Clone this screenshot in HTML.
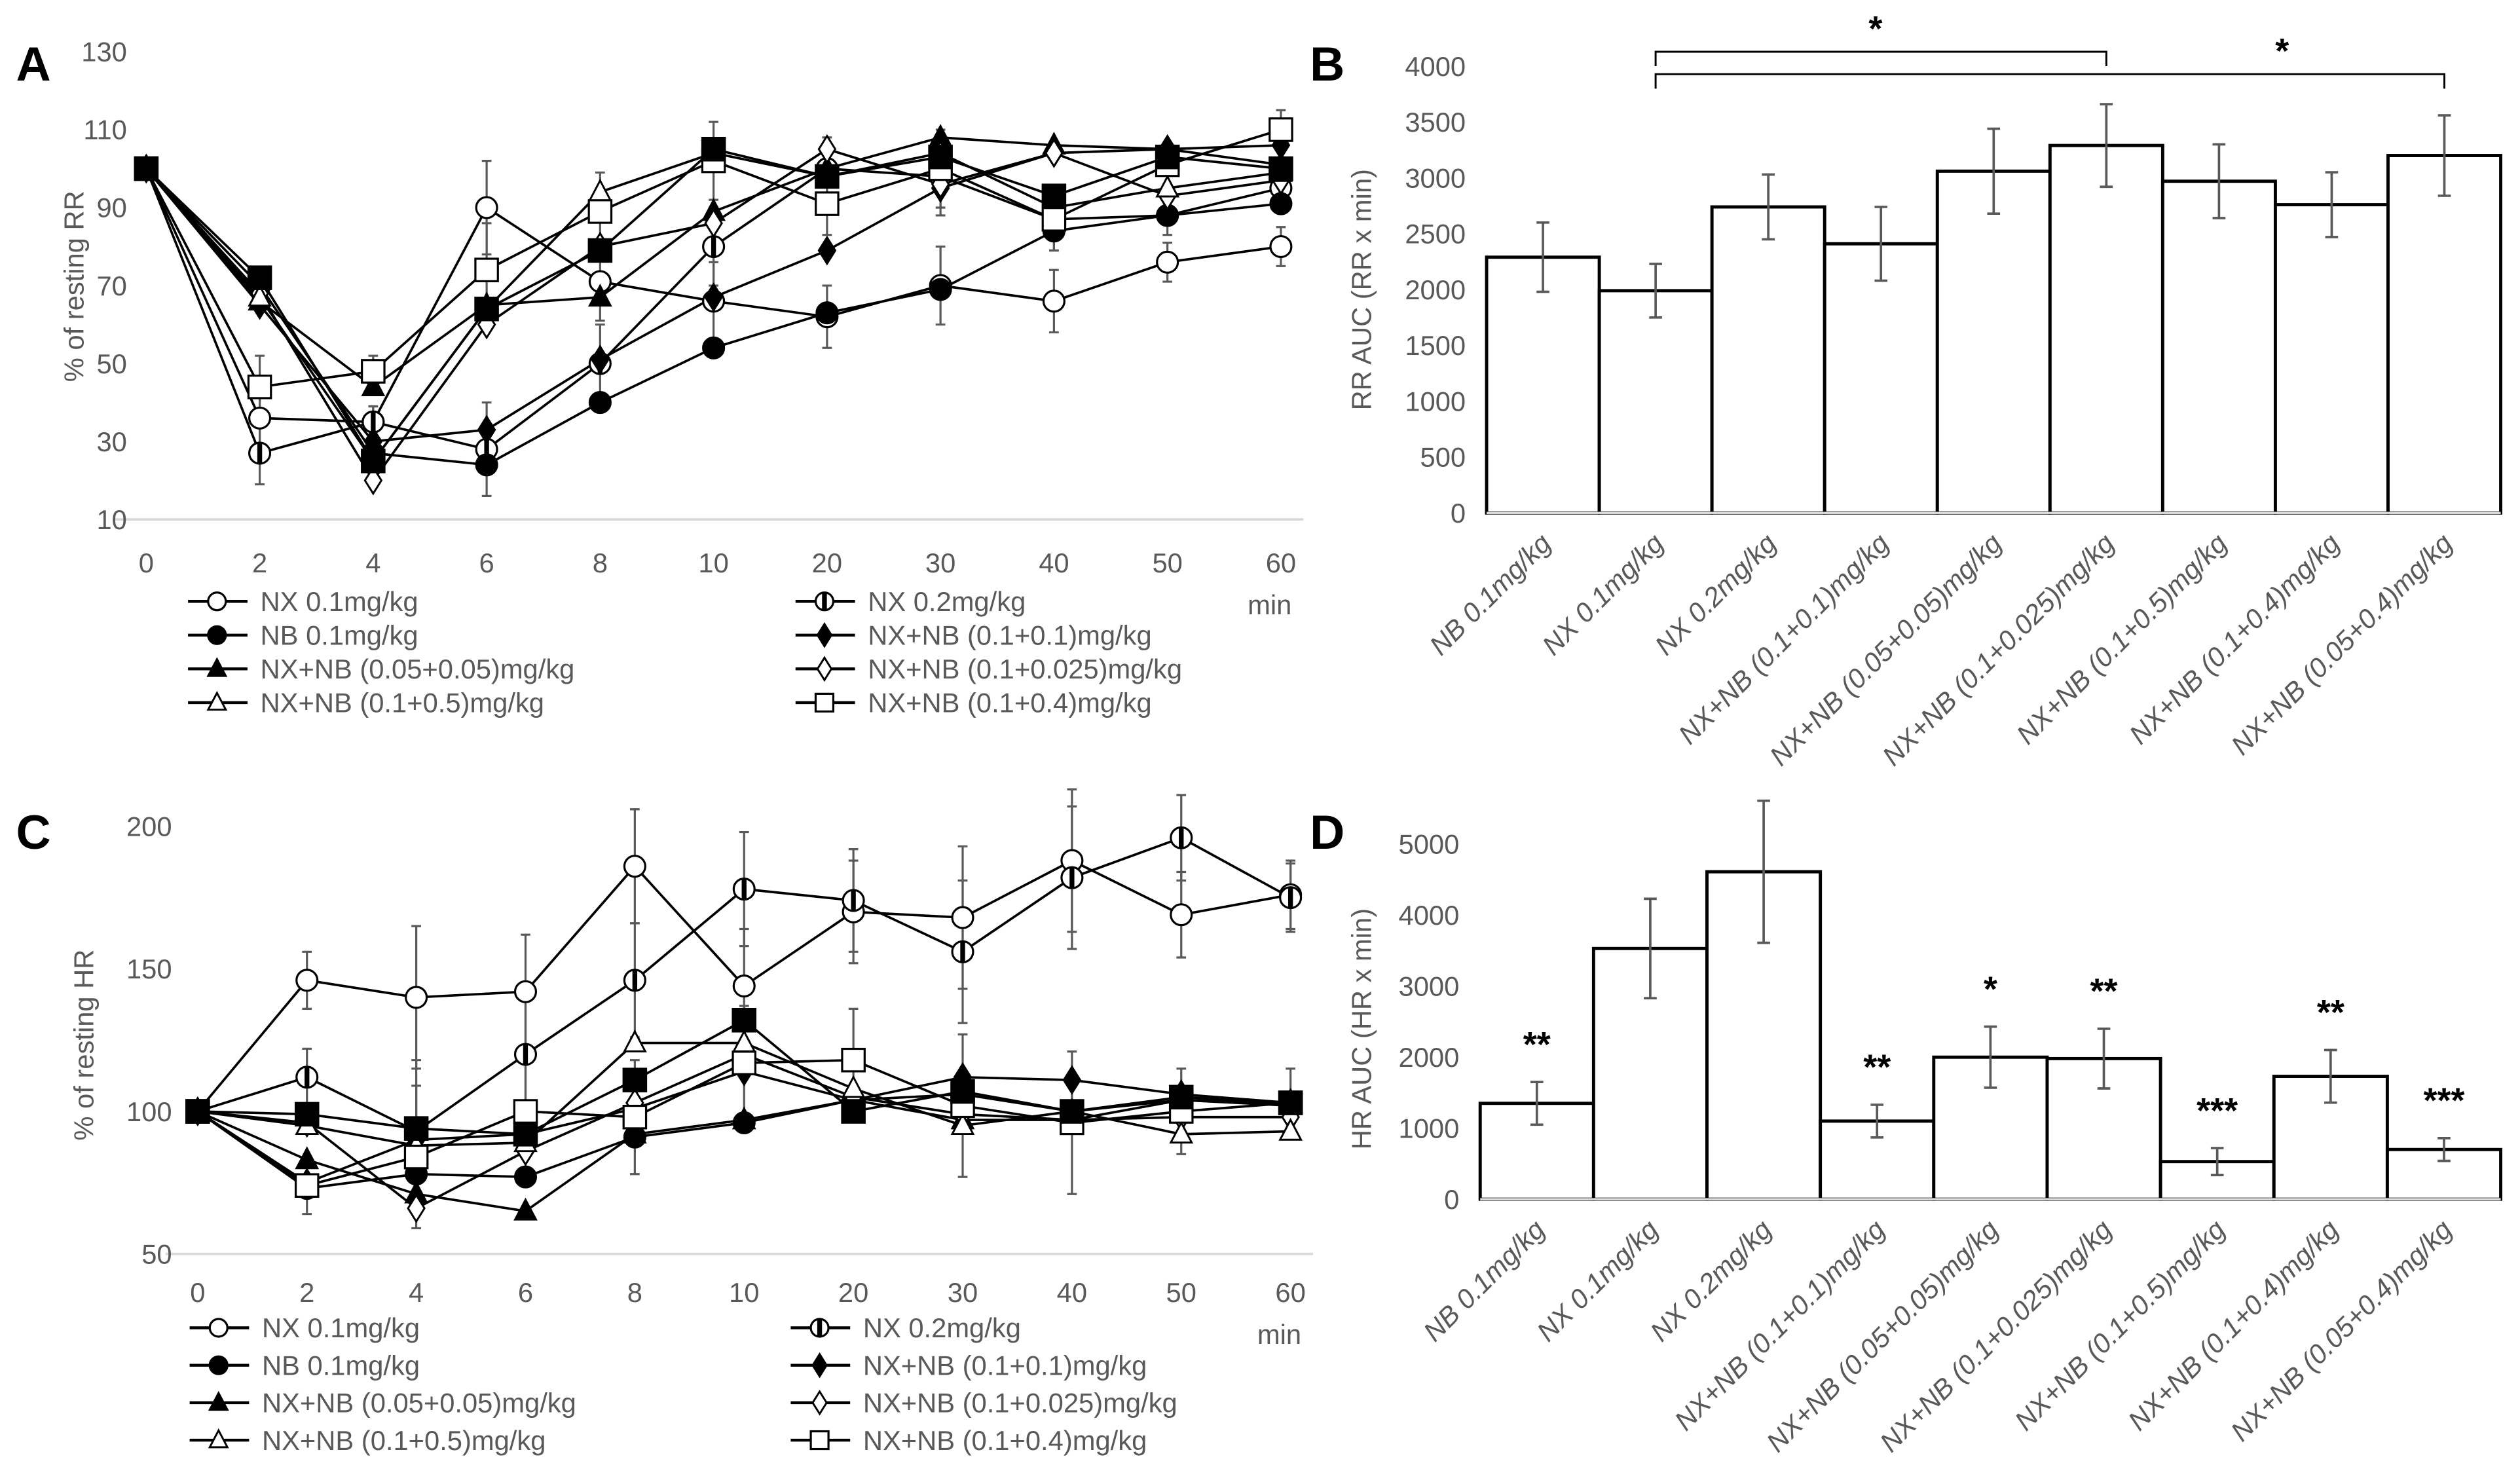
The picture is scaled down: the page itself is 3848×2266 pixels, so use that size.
<!DOCTYPE html>
<html><head><meta charset="utf-8"><style>
html,body{margin:0;padding:0;background:#fff}
svg{display:block}
text{font-family:"Liberation Sans",sans-serif}
</style></head><body>
<svg id="fig" width="3848" height="2266" viewBox="0 0 1568 923" xmlns="http://www.w3.org/2000/svg">
<g id="root"></g>
</svg>
<script>
// ---------- DATA ----------
const timeLabels = ["0","2","4","6","8","10","20","30","40","50","60"];
const legendNames = ["NX 0.1mg/kg","NX 0.2mg/kg","NB 0.1mg/kg","NX+NB (0.1+0.1)mg/kg","NX+NB (0.05+0.05)mg/kg","NX+NB (0.1+0.025)mg/kg","NX+NB (0.1+0.5)mg/kg","NX+NB (0.1+0.4)mg/kg"];
const markerTypes = ["circleOpen","circleHalf","circleFill","diamondFill","triFill","diamondOpen","triOpen","squareOpen","squareFill"];

// Panel A: % of resting RR
const rrNX01 = [100,36,35,90,71,66,62,70,66,76,80];
const rrNX02 = [100,27,35,28,50,80,100,98,87,88,95];
const rrNB01 = [100,70,27,24,40,54,63,69,84,88,91];
const rrC1 = [100,65,30,33,51,67,79,95,104,105,106];
const rrC2 = [100,66,44,65,67,89,100,108,106,105,101];
const rrC3 = [100,68,20,60,80,86,105,96,104,93,97];
const rrC4 = [100,67,25,64,94,104,98,104,90,95,99];
const rrC5 = [100,44,48,74,89,102,91,100,87,101,110];
const rrC6 = [100,72,25,64,79,105,98,103,93,103,100];
const rrErr = [0,8,4,12,10,10,8,10,8,5,5];
const rrTicks = [10,30,50,70,90,110,130];

// Panel C: % of resting HR
const hrNX01 = [100,146,140,142,186,144,170,168,188,169,176];
const hrNX02 = [100,112,93,120,146,178,174,156,182,196,175];
const hrNB01 = [100,73,78,77,91,96,104,106,100,104,103];
const hrC1 = [100,75,90,92,101,114,104,112,111,106,103];
const hrC2 = [100,83,71,65,92,97,104,97,97,104,102];
const hrC3 = [100,96,66,86,103,120,105,99,97,98,98];
const hrC4 = [100,95,88,89,124,124,108,95,100,92,93];
const hrC5 = [100,74,84,100,98,117,118,102,96,100,103];
const hrC6 = [100,99,94,92,111,132,100,107,100,105,103];
const hrErr = [0,10,25,20,20,20,18,25,25,15,12];
const hrTicks = [50,100,150,200];

// Panels B, D
const barCats = ["NB 0.1mg/kg","NX 0.1mg/kg","NX 0.2mg/kg","NX+NB (0.1+0.1)mg/kg","NX+NB (0.05+0.05)mg/kg","NX+NB (0.1+0.025)mg/kg","NX+NB (0.1+0.5)mg/kg","NX+NB (0.1+0.4)mg/kg","NX+NB (0.05+0.4)mg/kg"];
const rrAuc = [2290,1990,2740,2410,3060,3290,2970,2760,3200];
const rrAucErr = [310,240,290,330,380,370,330,290,360];
const rrAucTicks = [0,500,1000,1500,2000,2500,3000,3500,4000];
const hrAuc = [1350,3530,4610,1100,2000,1980,530,1730,700];
const hrAucErr = [300,700,1000,230,430,420,190,370,160];
const hrAucTicks = [0,1000,2000,3000,4000,5000];
const hrStars = ["**","","","**","*","**","***","**","***"];

// ---------- DRAW ----------
const NS="http://www.w3.org/2000/svg";
const root=document.getElementById('root');
function mk(tag,attrs,parent){const e=document.createElementNS(NS,tag);for(const k in attrs)e.setAttribute(k,attrs[k]);(parent||root).appendChild(e);return e;}
function txt(s,attrs,parent){const e=mk('text',attrs,parent);e.textContent=s;return e;}

function marker(g,type,x,y,r){
  let e;
  if(type.startsWith('circle')){
    e=mk('circle',{cx:x,cy:y,r:r,fill:type==='circleFill'?'#000':'#fff',stroke:'#000','stroke-width':1.3},g);
    if(type==='circleHalf'){mk('rect',{x:x-1.5,y:y-r+0.5,width:3,height:2*r-1,fill:'#000'},g);}
  } else if(type.startsWith('diamond')){
    const rr=r*1.05;
    e=mk('polygon',{points:`${x},${y-rr*1.2} ${x+rr*0.75},${y} ${x},${y+rr*1.2} ${x-rr*0.75},${y}`,fill:type==='diamondFill'?'#000':'#fff',stroke:'#000','stroke-width':1.2},g);
  } else if(type.startsWith('tri')){
    e=mk('polygon',{points:`${x},${y-r*1.1} ${x+r},${y+r*0.8} ${x-r},${y+r*0.8}`,fill:type==='triFill'?'#000':'#fff',stroke:'#000','stroke-width':1.2},g);
  } else {
    e=mk('rect',{x:x-r,y:y-r,width:2*r,height:2*r,fill:type==='squareFill'?'#000':'#fff',stroke:'#000','stroke-width':1.3},g);
  }
  
  
}

function linePanel(opt){
  const g=mk('g',{});
  
  
  const xs=i=>opt.x0+(opt.x1-opt.x0)*i/(timeLabels.length-1);
  const ys=v=>opt.yBot-(v-opt.vmin)/(opt.vmax-opt.vmin)*(opt.yBot-opt.yTop);
  const ax=mk('line',{x1:opt.x0-20,x2:opt.x1+14,y1:ys(opt.vmin),y2:ys(opt.vmin),stroke:'#d9d9d9','stroke-width':1.5},g);
  
  opt.ticks.forEach(t=>{const e=txt(String(t),{x:opt.x0-opt.tickDx,y:ys(t)+6,'text-anchor':'end','font-size':17,fill:'#595959'},g);});
  timeLabels.forEach((l,i)=>{const e=txt(l,{x:xs(i),y:opt.xLabY,'text-anchor':'middle','font-size':17,fill:'#595959'},g);});
  const mn=txt('min',{x:opt.x1-7,y:opt.xLabY+26,'text-anchor':'middle','font-size':17,fill:'#595959'},g);
  
  const yt=txt(opt.ytitle,{x:0,y:0,'text-anchor':'middle','font-size':17,fill:'#595959',transform:`translate(${opt.ytx},${opt.yty}) rotate(-90)`},g);
  
  const pl=txt(opt.letter,{x:opt.lx,y:opt.ly,'font-size':30,'font-weight':'bold',fill:'#000'},g);
  
  opt.series.forEach((s,si)=>{
    if(si>1 && si!==7) return;
    s.forEach((v,i)=>{const e=opt.err[i];if(!e)return;
      const x=xs(i);
      const b=mk('path',{d:`M${x},${ys(v+e)}V${ys(v-e)}M${x-3},${ys(v+e)}h6M${x-3},${ys(v-e)}h6`,stroke:'#595959','stroke-width':1.3,fill:'none'},g);
      
    });
  });
  opt.series.forEach((s,si)=>{
    const p=mk('polyline',{points:s.map((v,i)=>xs(i)+','+ys(v)).join(' '),fill:'none',stroke:'#000','stroke-width':1.5},g);
    
  });
  opt.series.forEach((s,si)=>{s.forEach((v,i)=>marker(g,markerTypes[si],xs(i),ys(v),si>=7?7:6.5));});
  legendNames.forEach((n,i)=>{
    const col=i%2,row=Math.floor(i/2);
    const lx=col?opt.lc2:opt.lc1, ly=opt.lr0+row*opt.lrh;
    const lg=mk('g',{},g);
    
    mk('line',{x1:lx,x2:lx+37,y1:ly,y2:ly,stroke:'#000','stroke-width':1.8},lg);
    marker(lg,markerTypes[i],lx+18,ly,5.5);
    txt(n,{x:lx+45,y:ly+6,'font-size':17,fill:'#595959'},lg);
  });
}

linePanel({name:'panel-a-rr-chart',letter:'A',lx:10,ly:50,x0:91,x1:797,yTop:32,yBot:323,vmin:10,vmax:130,ticks:rrTicks,tickDx:12,xLabY:356,
  ytitle:'% of resting RR',ytx:52,yty:178,err:rrErr,
  series:[rrNX01,rrNX02,rrNB01,rrC1,rrC2,rrC3,rrC4,rrC5,rrC6],lc1:117,lc2:495,lr0:374,lrh:21});
linePanel({name:'panel-c-hr-chart',letter:'C',lx:10,ly:528,x0:123,x1:803,yTop:514,yBot:780,vmin:50,vmax:200,ticks:hrTicks,tickDx:16,xLabY:810,
  ytitle:'% of resting HR',ytx:58,yty:650,err:hrErr,
  series:[hrNX01,hrNX02,hrNB01,hrC1,hrC2,hrC3,hrC4,hrC5,hrC6],lc1:118,lc2:492,lr0:826,lrh:23.3});

function barPanel(opt){
  const g=mk('g',{});
  
  
  const n=barCats.length, w=(opt.x1-opt.x0)/n;
  const ys=v=>opt.yBot-v/opt.vmax*(opt.yBot-opt.yTop);
  const pl=txt(opt.letter,{x:opt.lx,y:opt.ly,'font-size':30,'font-weight':'bold',fill:'#000'},g);
  
  opt.ticks.forEach(t=>{const e=txt(String(t),{x:opt.x0-13,y:ys(t)+6,'text-anchor':'end','font-size':17,fill:'#595959'},g);});
  const yt=txt(opt.ytitle,{x:0,y:0,'text-anchor':'middle','font-size':17,fill:'#595959',transform:`translate(${opt.ytx},${opt.yty}) rotate(-90)`},g);
  
  opt.vals.forEach((v,i)=>{
    const x=opt.x0+i*w;
    const b=mk('rect',{x:x,y:ys(v),width:w,height:ys(0)-ys(v),fill:'#fff',stroke:'#000','stroke-width':2},g);
    
  });
  const ax=mk('line',{x1:opt.x0,x2:opt.x1,y1:ys(0),y2:ys(0),stroke:'#d9d9d9','stroke-width':1.5},g);
  
  opt.vals.forEach((v,i)=>{
    const cx=opt.x0+(i+0.5)*w,e=opt.err[i];
    const eb=mk('path',{d:`M${cx},${ys(v+e)}V${ys(v-e)}M${cx-4},${ys(v+e)}h8M${cx-4},${ys(v-e)}h8`,stroke:'#595959','stroke-width':1.5,fill:'none'},g);
    
    const l=txt(barCats[i],{x:0,y:0,'text-anchor':'end','font-size':17,fill:'#595959','font-style':'italic',transform:`translate(${cx+6},${ys(0)+20}) rotate(-45)`},g);
    
    if(opt.stars&&opt.stars[i]){const s=txt(opt.stars[i],{x:cx,y:ys(v+e)-opt.starDy,'text-anchor':'middle','font-size':22,'font-weight':'bold',fill:'#000'},g);}
  });
  return {x:i=>opt.x0+(i+0.5)*w,g:g};
}

const B=barPanel({name:'panel-b-rr-auc-chart',letter:'B',lx:815,ly:50,x0:925,x1:1556,yTop:41,yBot:319,vmax:4000,ticks:rrAucTicks,ytitle:'RR AUC (RR x min)',ytx:853,yty:180,vals:rrAuc,err:rrAucErr});
[[1,5,32,1167],[1,8,46,1420]].forEach(([a,b,y,sx],k)=>{
  const p=mk('path',{d:`M${B.x(a)},${y+9}V${y}H${B.x(b)}V${y+9}`,fill:'none',stroke:'#000','stroke-width':1.2},B.g);
  
  const s=txt('*',{x:sx,y:y-7,'text-anchor':'middle','font-size':22,'font-weight':'bold'},B.g);
  
});
barPanel({name:'panel-d-hr-auc-chart',letter:'D',lx:815,ly:528,x0:921,x1:1556,yTop:525,yBot:746,vmax:5000,ticks:hrAucTicks,ytitle:'HR AUC (HR x min)',ytx:853,yty:640,vals:hrAuc,err:hrAucErr,stars:hrStars,starDy:16});
</script>
</body></html>
